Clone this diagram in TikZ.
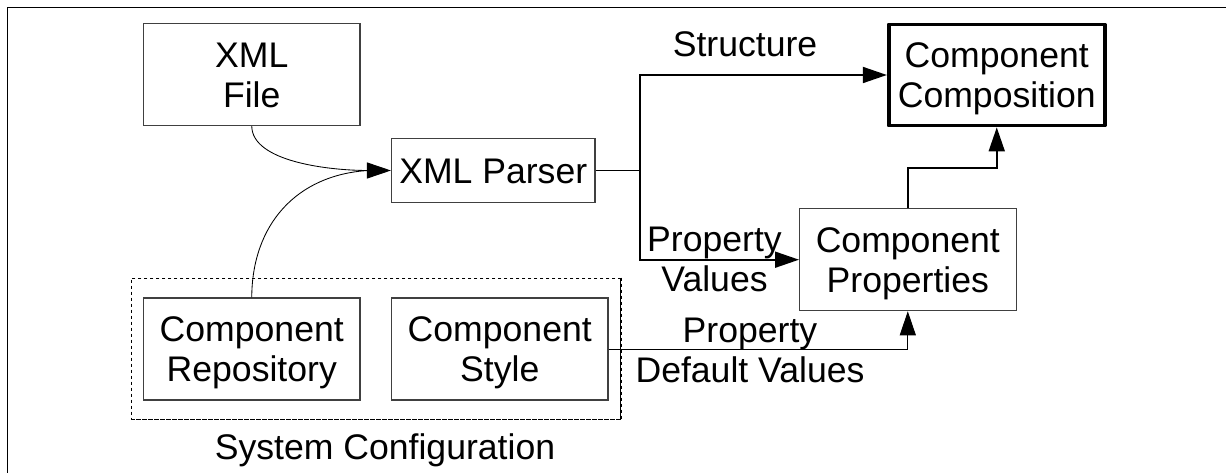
\documentclass[tikz,border=0pt]{standalone}
\usepackage{fontspec}
\setmainfont{Liberation Sans}
\usetikzlibrary{arrows.meta}
\newcommand\toprow{\rule{0pt}{33.5pt}}
\tikzset{
  x=1pt,y=-1pt,
  txt/.style={execute at end node={\rule[-8pt]{0pt}{8pt}},align=center,inner sep=0pt,font=\fontsize{35.6}{40}\selectfont},
  plainbox/.style={txt,draw=black!75,line width=1.1pt},
  boldbox/.style={txt,draw=black,line width=3.8pt,line join=round},
  tip/.style={-{Triangle[length=24pt,width=16pt]}},
  thick link/.style={tip,line width=1.8pt},
  thin link/.style={tip,line width=1pt},
  curve link/.style={line width=0.85pt},
  dots/.style={dash pattern=on 3.5pt off 2.5pt},
}
\begin{document}
\begin{tikzpicture}
\useasboundingbox (0,0) rectangle (1226,473);
\fill[white] (0,0) rectangle (1226,473);
\draw[line width=1.4pt] (7.5,473) -- (7.5,7.5) -- (1226,7.5);
\node[plainbox,minimum width=216.5pt,minimum height=102pt] (file) at (251.75,74.5) {\toprow XML\\File};
\node[plainbox,minimum width=203.5pt,minimum height=63.5pt] (parser) at (493.25,170.5) {\toprow XML Parser};
\node[plainbox,minimum width=216.5pt,minimum height=102pt] (repo) at (251.75,349) {\toprow Component\\Repository};
\node[plainbox,minimum width=216.5pt,minimum height=102pt] (style) at (499.75,349) {\toprow Component\\Style};
\node[boldbox,minimum width=216pt,minimum height=101pt] (comp) at (996.75,75) {\toprow Component\\Composition};
\node[plainbox,minimum width=216.5pt,minimum height=102pt] (props) at (907.8,259.7) {\toprow Component\\Properties};
\node[draw,dots,line width=1pt,inner sep=0pt,minimum width=489.7pt,minimum height=141pt] (sys) at (375.9,348.5) {};
\draw[dots,line width=1.6pt] (sys.north east) -- (sys.south east) -- (sys.south west);
\node[txt] (syslabel) at (385,447) {\toprow System Configuration};
\node[txt] (structure) at (745,44) {\toprow Structure};
\node[txt] (pv) at (714.5,259) {\toprow Property\\Values};
\node[txt] (pd) at (750,350) {\toprow Property\\Default Values};
\coordinate (bus) at (640.3,170.5);
\coordinate (structin) at (comp.west |- 0,75);
\coordinate (joint) at (907.8,168);
\draw[thick link] (parser.east) -- (bus) |- (structin);
\draw[thick link] (bus) |- (props.west);
\draw[thick link] (props.north) -- (joint) -| (comp.south);
\draw[thin link] (style.east) -| (props.south);
\draw[curve link] (file.south) .. controls (252,162) and (330,170.5) .. (368,170.5);
\draw[curve link] (repo.north) .. controls (252,225) and (296,175) .. (368,170.5);
\draw[thin link] (368,170.5) -- (parser.west);
\end{tikzpicture}
\end{document}
